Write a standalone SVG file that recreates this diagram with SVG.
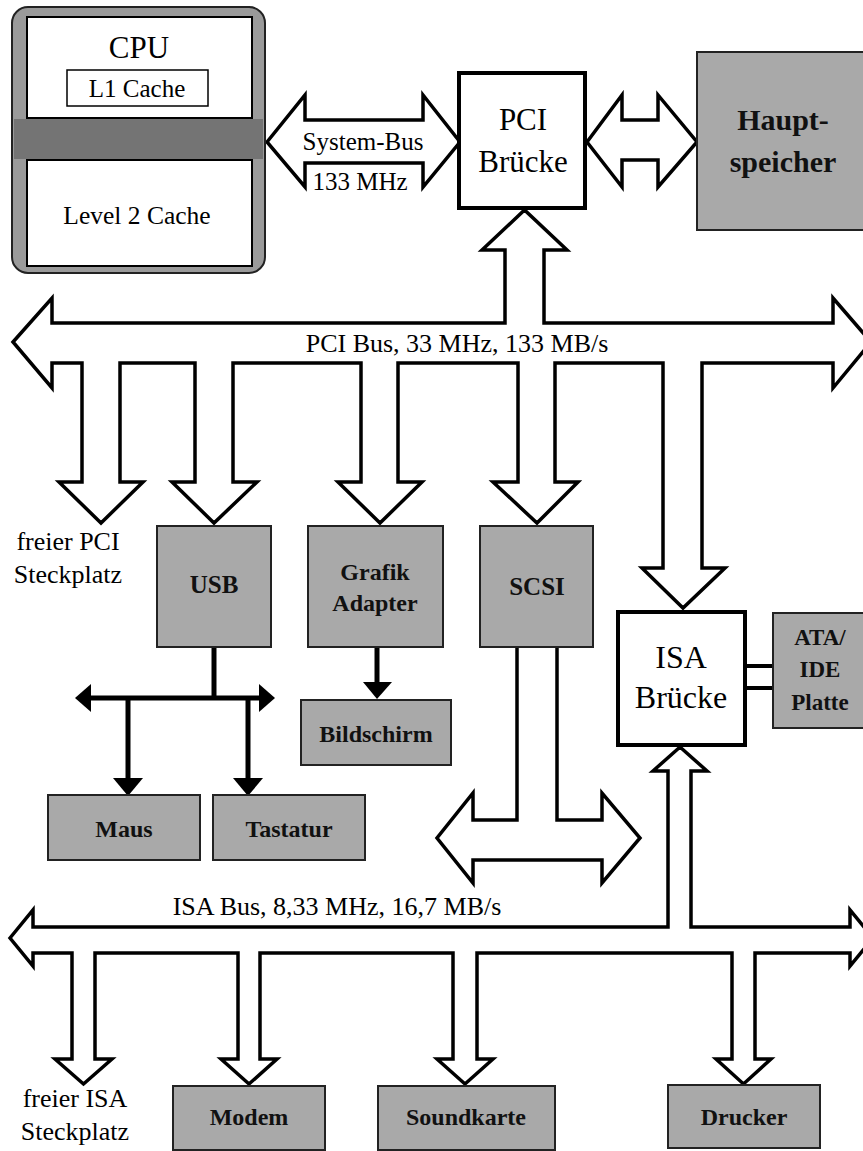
<svg xmlns="http://www.w3.org/2000/svg" width="863" height="1151" viewBox="0 0 863 1151">
<style>
.bus{fill:#fff;stroke:#000;stroke-width:3.5;stroke-linejoin:miter}
.box{fill:#fff;stroke:#000;stroke-width:4}
.thin{fill:#fff;stroke:#000;stroke-width:2}
.gray{fill:#a9a9a9;stroke:#222;stroke-width:2}
.t{font-family:"Liberation Serif","Times New Roman",serif;fill:#000;text-anchor:middle}
.b{font-weight:bold;fill:#111}
.ln{stroke:#000;stroke-width:5;fill:none}
.hd{fill:#000;stroke:none}
</style>
<rect width="863" height="1151" fill="#fff"/>
<g id="connectors">
  <polygon id="system-bus" class="bus" points="267,142 305,95 305,120 423,120 423,95 460,142 423,187 423,163 305,163 305,187"/>
  <polygon id="memory-bus" class="bus" points="587,142 622,95 622,120 658,120 658,95 697,142 658,187 658,160 622,160 622,187"/>
  <polygon id="pci-bus" class="bus" points="13,342 52,298 52,323 505,323 505,250 482,250 524.5,210 567,250 544,250 544,323 833,323 833,298 871,342 833,388 833,363 702,363 702,568 725,568 683,608 642,568 663,568 663,363 555,363 555,482 578,482 537,523 493,482 518,482 518,363 398,363 398,482 422,482 380,523 338,482 361,482 361,363 233,363 233,482 257,482 214,523 172,482 195,482 195,363 120,363 120,482 143,482 101,523 59,482 82,482 82,363 52,363 52,388"/>
  <polyline id="scsi-bus" class="bus" points="517,647 517,820 473,820 473,793 437,838 473,883 473,860 602,860 602,883 640,838 602,793 602,820 557,820 557,647"/>
  <polygon id="isa-bus" class="bus" points="10,938 33,910 33,927 668,927 668,771 653,771 680,747 707,771 691,771 691,927 850,927 850,910 873,938 850,966 850,953 755,953 755,1059 771,1059 743.5,1084 716,1059 732,1059 732,953 477,953 477,1059 493,1059 465,1084 437,1059 453,1059 453,953 260,953 260,1059 277,1059 249,1084 221,1059 238,1059 238,953 95,953 95,1059 112,1059 83.5,1084 55,1059 72,1059 72,953 33,953 33,966"/>
  <rect id="ide-link" x="745" y="666" width="29" height="22" fill="#fff" stroke="#000" stroke-width="4"/>
  <g id="usb-tree">
    <line class="ln" x1="214" y1="647" x2="214" y2="698"/>
    <line class="ln" x1="88" y1="698" x2="262" y2="698"/>
    <polygon class="hd" points="75,698 91,684 91,712"/>
    <polygon class="hd" points="275,698 259,684 259,712"/>
    <line class="ln" x1="128" y1="698" x2="128" y2="780"/>
    <polygon class="hd" points="113,778 143,778 128,796"/>
    <line class="ln" x1="248" y1="698" x2="248" y2="780"/>
    <polygon class="hd" points="233,778 263,778 248,796"/>
  </g>
  <g id="grafik-bild">
    <line class="ln" x1="377" y1="647" x2="377" y2="684"/>
    <polygon class="hd" points="363,682 392,682 377,699"/>
  </g>
  <text class="t" x="363" y="150" font-size="25">System-Bus</text>
  <text class="t" x="360" y="190" font-size="25">133 MHz</text>
  <text class="t" x="457" y="352" font-size="26">PCI Bus, 33 MHz, 133 MB/s</text>
  <text class="t" x="337" y="915" font-size="26">ISA Bus, 8,33 MHz, 16,7 MB/s</text>
</g>
<g id="cpu">
  <rect x="12" y="7" width="253" height="266" rx="16" fill="#9a9a9a" stroke="#222" stroke-width="2"/>
  <rect x="14" y="119" width="249" height="40" fill="#747474"/>
  <rect class="thin" x="27" y="17" width="225" height="101"/>
  <rect class="thin" x="27" y="160" width="225" height="106"/>
  <text class="t" x="139" y="58" font-size="31">CPU</text>
  <rect x="67" y="70" width="141" height="36" fill="#fff" stroke="#000" stroke-width="1.5"/>
  <text class="t" x="137" y="97" font-size="25">L1 Cache</text>
  <text class="t" x="137" y="224" font-size="25.5">Level 2 Cache</text>
</g>
<g id="pci-bruecke">
  <rect class="box" x="459" y="73" width="126" height="135"/>
  <text class="t" x="523" y="130" font-size="31">PCI</text>
  <text class="t" x="523" y="172" font-size="31">Brücke</text>
</g>
<g id="hauptspeicher">
  <rect class="gray" x="697" y="52" width="170" height="178" stroke-width="3"/>
  <text class="t b" x="783" y="130" font-size="30">Haupt-</text>
  <text class="t b" x="783" y="172" font-size="30">speicher</text>
</g>
<g id="freier-pci">
  <text class="t" x="68" y="550" font-size="26">freier PCI</text>
  <text class="t" x="68" y="583" font-size="26">Steckplatz</text>
</g>
<g id="usb">
  <rect class="gray" x="157" y="526" width="114" height="121"/>
  <text class="t b" x="214" y="593" font-size="25">USB</text>
</g>
<g id="grafik">
  <rect class="gray" x="308" y="526" width="135" height="121"/>
  <text class="t b" x="375" y="580" font-size="24">Grafik</text>
  <text class="t b" x="375" y="611" font-size="24">Adapter</text>
</g>
<g id="scsi">
  <rect class="gray" x="480" y="526" width="113" height="121"/>
  <text class="t b" x="537" y="595" font-size="25">SCSI</text>
</g>
<g id="bildschirm">
  <rect class="gray" x="301" y="700" width="150" height="65"/>
  <text class="t b" x="376" y="742" font-size="24">Bildschirm</text>
</g>
<g id="maus">
  <rect class="gray" x="48" y="795" width="152" height="65"/>
  <text class="t b" x="124" y="837" font-size="24">Maus</text>
</g>
<g id="tastatur">
  <rect class="gray" x="213" y="795" width="152" height="65"/>
  <text class="t b" x="289" y="837" font-size="24">Tastatur</text>
</g>
<g id="isa-bruecke">
  <rect class="box" x="618" y="612" width="127" height="133"/>
  <text class="t" x="681" y="668" font-size="32">ISA</text>
  <text class="t" x="681" y="708" font-size="32">Brücke</text>
</g>
<g id="ata-ide">
  <rect class="gray" x="773" y="613" width="94" height="115"/>
  <text class="t b" x="820" y="645" font-size="23">ATA/</text>
  <text class="t b" x="820" y="677" font-size="23">IDE</text>
  <text class="t b" x="820" y="710" font-size="23">Platte</text>
</g>
<g id="freier-isa">
  <text class="t" x="75" y="1107" font-size="26">freier ISA</text>
  <text class="t" x="75" y="1140" font-size="26">Steckplatz</text>
</g>
<g id="modem">
  <rect class="gray" x="173" y="1086" width="152" height="64"/>
  <text class="t b" x="249" y="1125" font-size="24">Modem</text>
</g>
<g id="soundkarte">
  <rect class="gray" x="378" y="1086" width="177" height="64"/>
  <text class="t b" x="466" y="1125" font-size="24">Soundkarte</text>
</g>
<g id="drucker">
  <rect class="gray" x="668" y="1085" width="152" height="63"/>
  <text class="t b" x="744" y="1125" font-size="24">Drucker</text>
</g>
</svg>
